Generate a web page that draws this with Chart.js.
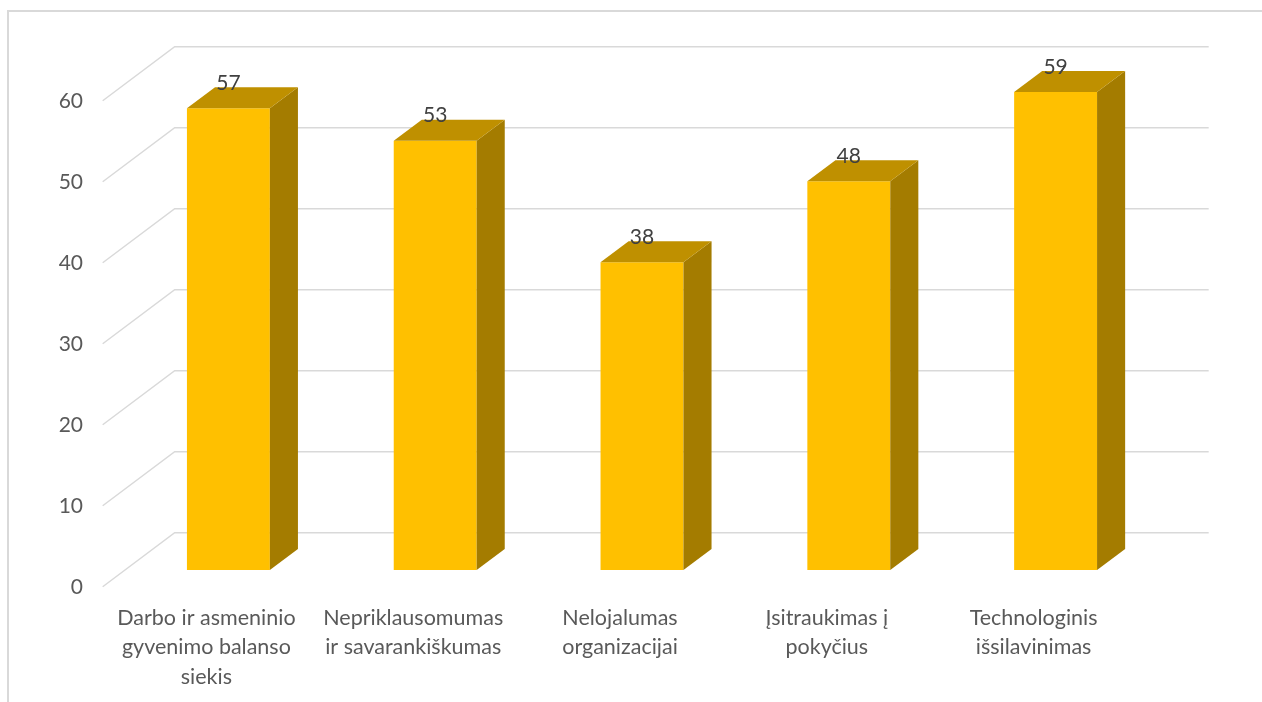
<!DOCTYPE html>
<html>
<head>
<meta charset="utf-8">
<script src="https://cdn.jsdelivr.net/npm/chart.js@4.4.0/dist/chart.umd.min.js"></script>
<style>
  html, body { margin: 0; padding: 0; background: #ffffff; }
  #wrap { position: relative; width: 1262px; height: 702px; }
</style>
</head>
<body>
<div id="wrap"><canvas id="chart" width="1262" height="702"></canvas></div>
<script>
// Categories (multi-line labels) and values
const categories = [
  ["Darbo ir asmeninio", "gyvenimo balanso", "siekis"],
  ["Nepriklausomumas", "ir savarankiškumas"],
  ["Nelojalumas", "organizacijai"],
  ["Įsitraukimas į", "pokyčius"],
  ["Technologinis", "išsilavinimas"]
];
const values = [57, 53, 38, 48, 59];
const tickValues = [0, 10, 20, 30, 40, 50, 60];

// 3D look: full depth of the floor, and where the bars sit inside it
const DEPTH = { dx: 72, dy: -54 };
const FRONT_FRAC = 0.31;   // bar front face distance from front edge
const BAR_FRAC = 0.39;     // bar thickness along depth

const COLORS = {
  front: '#FFC000',
  top: '#BF9000',
  side: '#A47C00',
  grid: '#D9D9D9',
  tick: '#595959',
  value: '#404040'
};

const frontOff = { x: -FRONT_FRAC * DEPTH.dx, y: -FRONT_FRAC * DEPTH.dy };
const backOff = { x: (1 - FRONT_FRAC) * DEPTH.dx, y: (1 - FRONT_FRAC) * DEPTH.dy };
const barOff = { x: BAR_FRAC * DEPTH.dx, y: BAR_FRAC * DEPTH.dy };

const wallsPlugin = {
  id: 'walls3d',
  beforeDraw(chart) {
    const ctx = chart.ctx;
    ctx.save();
    ctx.strokeStyle = COLORS.grid;
    ctx.lineWidth = 2;
    ctx.beginPath();
    ctx.moveTo(8, 702);
    ctx.lineTo(8, 11);
    ctx.lineTo(1262, 11);
    ctx.stroke();
    ctx.restore();
  },
  beforeDatasetsDraw(chart) {
    const ctx = chart.ctx;
    const y = chart.scales.y;
    const area = chart.chartArea;
    ctx.save();
    ctx.strokeStyle = COLORS.grid;
    ctx.lineWidth = 1.5;
    tickValues.forEach(v => {
      const py = y.getPixelForValue(v);
      ctx.beginPath();
      ctx.moveTo(area.left + frontOff.x, py + frontOff.y);
      ctx.lineTo(area.left + backOff.x, py + backOff.y);
      ctx.lineTo(area.right + backOff.x, py + backOff.y);
      ctx.stroke();
    });
    ctx.restore();
  },
  afterDatasetsDraw(chart) {
    const ctx = chart.ctx;
    const meta = chart.getDatasetMeta(0);
    ctx.save();
    meta.data.forEach((bar, i) => {
      const p = bar.getProps(['x', 'y', 'base', 'width'], true);
      const x1 = p.x - p.width / 2, x2 = p.x + p.width / 2;
      const yt = p.y, yb = p.base;
      // side face
      ctx.fillStyle = COLORS.side;
      ctx.beginPath();
      ctx.moveTo(x2, yt);
      ctx.lineTo(x2 + barOff.x, yt + barOff.y);
      ctx.lineTo(x2 + barOff.x, yb + barOff.y);
      ctx.lineTo(x2, yb);
      ctx.closePath();
      ctx.fill();
      // top face
      ctx.fillStyle = COLORS.top;
      ctx.beginPath();
      ctx.moveTo(x1, yt);
      ctx.lineTo(x1 + barOff.x, yt + barOff.y);
      ctx.lineTo(x2 + barOff.x, yt + barOff.y);
      ctx.lineTo(x2, yt);
      ctx.closePath();
      ctx.fill();
      // value label
      ctx.fillStyle = COLORS.value;
      ctx.font = '21px Lato';
      ctx.textAlign = 'center';
      ctx.textBaseline = 'middle';
      ctx.fillText(String(values[i]), p.x, yt - 25);
    });
    ctx.restore();
  }
};

new Chart(document.getElementById('chart'), {
  type: 'bar',
  data: {
    labels: categories,
    datasets: [{
      data: values,
      backgroundColor: COLORS.front,
      borderWidth: 0,
      categoryPercentage: 1,
      barPercentage: 0.401
    }]
  },
  options: {
    responsive: false,
    animation: false,
    layout: { padding: { top: 84, right: 103, left: 0, bottom: 0 } },
    plugins: { legend: { display: false }, tooltip: { enabled: false } },
    scales: {
      x: {
        grid: { display: false, drawTicks: false },
        border: { display: false },
        ticks: {
          color: COLORS.tick,
          font: { family: 'Lato', size: 21.5, lineHeight: 1.37 },
          padding: 33,
          labelOffset: -22,
          maxRotation: 0,
          autoSkip: false
        },
        afterFit(s) { s.height = 132; }
      },
      y: {
        min: 0,
        max: 60,
        grid: { display: false, drawTicks: false },
        border: { display: false },
        ticks: {
          stepSize: 10,
          color: COLORS.tick,
          font: { family: 'Lato', size: 21 },
          padding: 42,
          labelOffset: 17
        },
        afterFit(s) { s.width = 125; }
      }
    }
  },
  plugins: [wallsPlugin]
});
</script>
</body>
</html>
